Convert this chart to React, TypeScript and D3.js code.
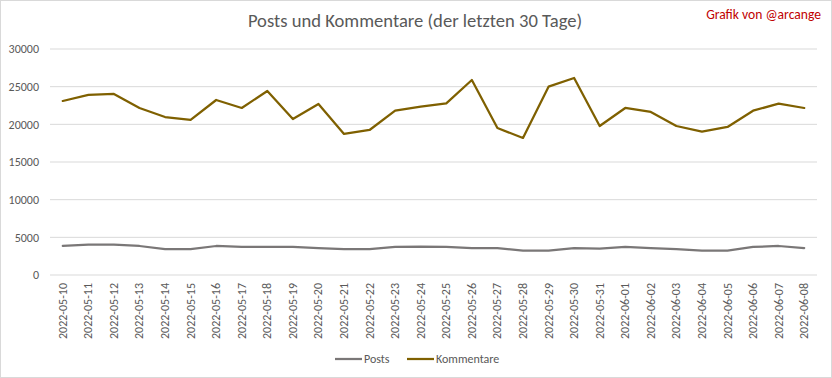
import React from "react";
import * as d3 from "d3";

const dates = [
  "2022-05-10","2022-05-11","2022-05-12","2022-05-13","2022-05-14","2022-05-15",
  "2022-05-16","2022-05-17","2022-05-18","2022-05-19","2022-05-20","2022-05-21",
  "2022-05-22","2022-05-23","2022-05-24","2022-05-25","2022-05-26","2022-05-27",
  "2022-05-28","2022-05-29","2022-05-30","2022-05-31","2022-06-01","2022-06-02",
  "2022-06-03","2022-06-04","2022-06-05","2022-06-06","2022-06-07","2022-06-08",
];
const posts = [
  3850, 4020, 4020, 3850, 3450, 3450, 3850, 3720, 3720, 3720, 3580, 3450,
  3450, 3720, 3760, 3720, 3580, 3580, 3230, 3230, 3580, 3500, 3720, 3580,
  3450, 3230, 3230, 3720, 3850, 3580,
];
const kommentare = [
  23100, 23900, 24030, 22170, 20970, 20580, 23230, 22170, 24430, 20710, 22700, 18720,
  19250, 21810, 22340, 22790, 25890, 19510, 18190, 25000, 26150, 19780, 22170, 21640,
  19780, 19030, 19650, 21810, 22750, 22170,
];
const yTicks = [0, 5000, 10000, 15000, 20000, 25000, 30000];
const seriesNames = ["Posts", "Kommentare"];
const seriesColors = ["#7a7777", "#7f6000"];

const W = 832, H = 378;
const FONT = "Carlito, Calibri, 'Liberation Sans Narrow', 'Liberation Sans', sans-serif";

export default function App() {
  React.useEffect(() => { document.body.style.margin = "0"; }, []);
  const x = d3.scaleBand<string>().domain(dates).range([50, 817]);
  const y = d3.scaleLinear().domain([0, 30000]).range([275, 49]);
  const line = d3.line<number>()
    .x((_, i) => (x(dates[i]) as number) + x.bandwidth() / 2)
    .y((v) => y(v));
  const series = [posts, kommentare];
  return (
    <svg width={W} height={H} style={{ display: "block" }} fontFamily={FONT}>
      <rect x={0.5} y={0.5} width={W - 1} height={H - 1} fill="#fff" stroke="#d9d9d9" />
      <text x={415} y={27} textAnchor="middle" fontSize={18.6} fill="#595959">
        Posts und Kommentare (der letzten 30 Tage)
      </text>
      <text x={821} y={19} textAnchor="end" fontSize={13.6} fill="#c00000">
        Grafik von @arcange
      </text>
      {yTicks.map((t) => (
        <g key={t}>
          <line x1={50} x2={817} y1={y(t)} y2={y(t)} stroke="#d9d9d9" strokeWidth={1} />
          <text x={39} y={y(t)} dy="0.35em" textAnchor="end" fontSize={12} fill="#595959">
            {t}
          </text>
        </g>
      ))}
      {dates.map((d) => {
        const cx = (x(d) as number) + x.bandwidth() / 2;
        return (
          <text key={d} transform={`translate(${cx + 4},${283}) rotate(-90)`} textAnchor="end"
            fontSize={12} fill="#595959">
            {d}
          </text>
        );
      })}
      {series.map((s, i) => (
        <path key={i} d={line(s) as string} fill="none" stroke={seriesColors[i]}
          strokeWidth={2.25} strokeLinejoin="round" strokeLinecap="round" />
      ))}
      {seriesNames.map((n, i) => {
        const lx = i === 0 ? 335 : 407;
        return (
          <g key={n}>
            <line x1={lx} x2={lx + 27} y1={359} y2={359} stroke={seriesColors[i]} strokeWidth={2.25} />
            <text x={lx + 29} y={359} dy="0.35em" fontSize={12} fill="#595959">{n}</text>
          </g>
        );
      })}
    </svg>
  );
}
